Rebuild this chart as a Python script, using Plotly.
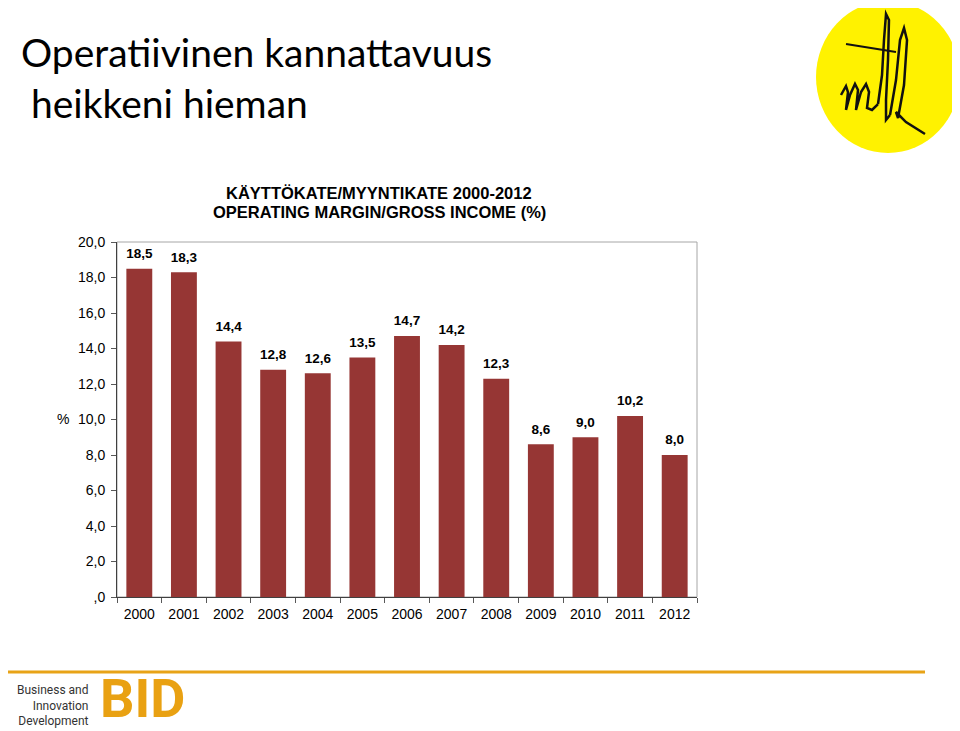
import plotly.graph_objects as go

years = ["2000", "2001", "2002", "2003", "2004", "2005", "2006",
         "2007", "2008", "2009", "2010", "2011", "2012"]
margin_pct = [18.5, 18.3, 14.4, 12.8, 12.6, 13.5, 14.7, 14.2, 12.3, 8.6, 9.0, 10.2, 8.0]
y_tickvals = [0, 2, 4, 6, 8, 10, 12, 14, 16, 18, 20]
y_ticktext = [",0", "2,0", "4,0", "6,0", "8,0", "10,0", "12,0", "14,0", "16,0", "18,0", "20,0"]

OFF = 8  # browser body margin
W, H = 960 - OFF, 731 - OFF
L, R, T, B = 117 - OFF, 697 - OFF, 242 - OFF, 597 - OFF

FONT = "Liberation Sans, Arial, sans-serif"


def px(x):
    return (x - OFF - L) / (R - L)


def py(y):
    return (B - (y - OFF)) / (B - T)


fig = go.Figure()
fig.add_trace(go.Bar(
    x=years, y=margin_pct,
    marker=dict(color="#963634", line=dict(width=0)),
    hoverinfo="skip",
))
fig.add_trace(go.Scatter(
    x=years, y=margin_pct, mode="markers+text",
    marker=dict(size=10, opacity=0),
    texttemplate="<b>%{y:.1f}</b>", textposition="top center",
    textfont=dict(family=FONT, size=13.5, color="#000000"),
    cliponaxis=False, hoverinfo="skip",
))

shapes = [
    dict(type="rect", xref="paper", yref="paper", x0=0, x1=1, y0=0, y1=1,
         line=dict(color="#A6A6A6", width=1), layer="below"),
    dict(type="circle", xref="paper", yref="paper",
         x0=px(816), x1=px(960), y0=py(153), y1=py(1),
         fillcolor="#FFF200", line=dict(width=0)),
    dict(type="line", xref="paper", yref="paper",
         x0=px(4), x1=px(925), y0=py(672), y1=py(672),
         line=dict(color="#E8A317", width=3)),
]


def path(points, width=2.5):
    d = "M " + " L ".join(f"{px(a):.4f},{py(b):.4f}" for a, b in points)
    return dict(type="path", xref="paper", yref="paper", path=d,
                line=dict(color="#111111", width=width))


shapes.append(path([(841, 95), (846, 86), (848, 92), (846, 110), (850, 95), (855, 84),
                    (858, 90), (856, 110), (861, 92), (866, 84), (869, 92), (867, 108),
                    (872, 110), (878, 104)]))
shapes.append(path([(878, 104), (882, 75), (884, 40), (886, 14), (889, 20), (888, 60),
                    (886, 100), (886, 120), (890, 115)]))
shapes.append(path([(890, 115), (896, 80), (900, 40), (904, 28), (907, 40), (904, 85),
                    (898, 118), (896, 112), (906, 122), (925, 134)]))
shapes.append(path([(846, 44), (896, 52)], width=2))

annotations = [
    dict(text="Operatiivinen kannattavuus<br> heikkeni hieman", xref="paper", yref="paper",
         x=px(19), y=py(78), xanchor="left", yanchor="middle", align="left", showarrow=False,
         font=dict(family="Lato, Carlito, sans-serif", size=39, color="#000000")),
    dict(text="<b>KÄYTTÖKATE/MYYNTIKATE 2000-2012</b>",
         xref="paper", yref="paper", x=px(379), y=py(193), xanchor="center", yanchor="middle",
         showarrow=False, font=dict(family=FONT, size=16.5, color="#000000")),
    dict(text="<b>OPERATING MARGIN/GROSS INCOME (%)</b>",
         xref="paper", yref="paper", x=px(379), y=py(212), xanchor="center", yanchor="middle",
         showarrow=False, font=dict(family=FONT, size=16.5, color="#000000")),
    dict(text="%", xref="paper", yref="paper", x=px(63), y=py(419), xanchor="center",
         yanchor="middle", showarrow=False,
         font=dict(family=FONT, size=14, color="#000000")),
    dict(text="Business and<br>Innovation<br>Development", xref="paper", yref="paper",
         x=px(91), y=py(705), xanchor="right", yanchor="middle", align="right",
         showarrow=False,
         font=dict(family="Roboto, sans-serif", size=12, color="#333333")),
    dict(text="<b>BID</b>", xref="paper", yref="paper", x=px(99), y=py(731),
         xanchor="left", yanchor="bottom", showarrow=False, borderpad=0,
         font=dict(family="Roboto, sans-serif", size=54, color="#E9A112")),
]

fig.update_layout(
    width=W, height=H,
    margin=dict(l=L, r=W - R, t=T, b=H - B, pad=0),
    paper_bgcolor="white", plot_bgcolor="white",
    separators=", ",
    showlegend=False,
    bargap=0.42,
    shapes=shapes,
    annotations=annotations,
    xaxis=dict(type="category", range=[-0.5, len(years) - 0.5], tickson="boundaries",
               ticks="outside", ticklen=5,
               tickcolor="#595959", showline=True, linecolor="#404040", linewidth=1,
               showgrid=False, ticklabelstandoff=4,
               tickfont=dict(family=FONT, size=14, color="#000000")),
    yaxis=dict(range=[0, 20], tickvals=y_tickvals, ticktext=y_ticktext, ticks="outside",
               ticklen=5, tickcolor="#595959", showline=True, linecolor="#404040",
               linewidth=1, showgrid=False, zeroline=False, ticklabelstandoff=3,
               tickfont=dict(family=FONT, size=14, color="#000000")),
)

fig.write_html("out.html")
